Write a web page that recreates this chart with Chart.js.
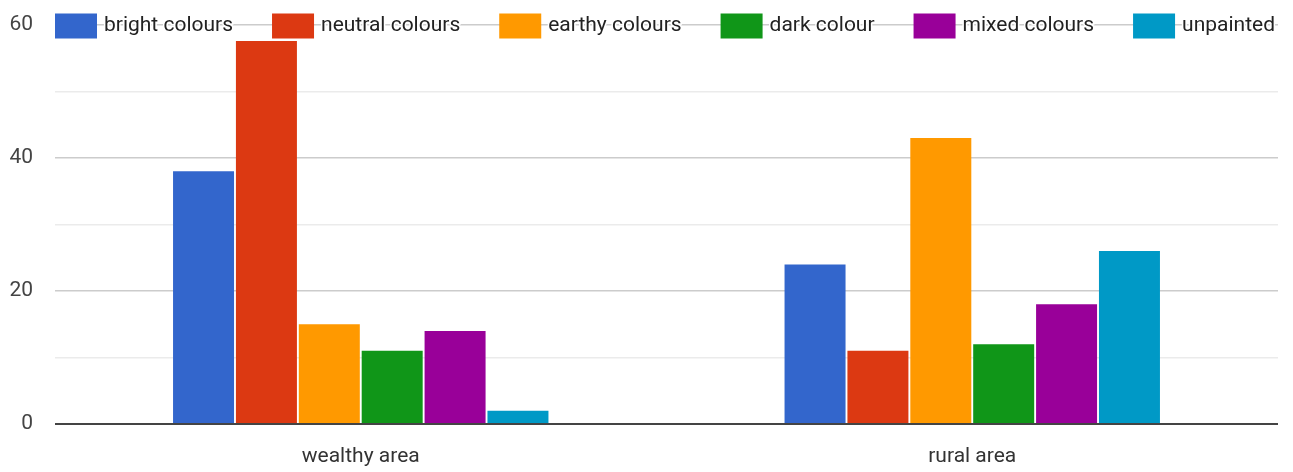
<!DOCTYPE html>
<html>
<head>
<meta charset="utf-8">
<script src="https://cdn.jsdelivr.net/npm/chart.js@4.4.1/dist/chart.umd.min.js"></script>
<style>
  html, body { margin: 0; padding: 0; background: #fff; }
  #wrap { width: 1293px; height: 472px; }
</style>
</head>
<body>
<div id="wrap"><canvas id="chart"></canvas></div>
<script>
const categories = ["wealthy area", "rural area"];
const seriesNames = ["bright colours", "neutral colours", "earthy colours", "dark colour", "mixed colours", "unpainted"];
const seriesColors = ["#3366cc", "#dc3912", "#ff9900", "#109618", "#990099", "#0099c6"];
const brightVals = [38, 24];
const neutralVals = [57.6, 11];
const earthyVals = [15, 43];
const darkVals = [11, 12];
const mixedVals = [14, 18];
const unpaintedVals = [2, 26];
const yTickLabels = [0, 20, 40, 60];

const seriesVals = [brightVals, neutralVals, earthyVals, darkVals, mixedVals, unpaintedVals];
const FONT = "Roboto, 'Liberation Sans', sans-serif";

// legend drawn inside the plot, on top of the 60 gridline (like the original)
const insideLegend = {
  id: 'insideLegend',
  afterDatasetsDraw(chart) {
    const ctx = chart.ctx;
    const area = chart.chartArea;
    const boxW = 42, boxH = 25, gapBoxText = 7;
    ctx.save();
    ctx.font = "21px " + FONT;
    ctx.textBaseline = 'middle';
    const widths = chart.data.datasets.map(d => ctx.measureText(d.label).width);
    const itemsW = widths.reduce((a, w) => a + w + boxW + gapBoxText, 0);
    const gap = (area.right - 3 - area.left - itemsW) / (widths.length - 1);
    let x = area.left;
    const cy = area.top + 1;
    chart.data.datasets.forEach((d, i) => {
      ctx.fillStyle = d.backgroundColor;
      ctx.fillRect(x, cy - boxH / 2, boxW, boxH);
      x += boxW + gapBoxText;
      ctx.lineWidth = 3;
      ctx.strokeStyle = '#fff';
      ctx.strokeText(d.label, x, cy);
      ctx.fillStyle = '#222';
      ctx.fillText(d.label, x, cy);
      x += widths[i] + gap;
    });
    ctx.restore();
  }
};

new Chart(document.getElementById('chart'), {
  type: 'bar',
  data: {
    labels: categories,
    datasets: seriesNames.map((name, i) => ({
      label: name,
      data: seriesVals[i],
      backgroundColor: seriesColors[i],
      categoryPercentage: 0.617,
      barPercentage: 0.97
    }))
  },
  options: {
    responsive: true,
    maintainAspectRatio: false,
    animation: false,
    layout: { padding: { left: 0, right: 15, top: 25, bottom: 2 } },
    plugins: {
      legend: { display: false },
      tooltip: { enabled: false }
    },
    scales: {
      x: {
        grid: { display: false, drawTicks: false },
        border: { display: false },
        ticks: { color: '#333', padding: 20, font: { family: FONT, size: 21 } },
        afterFit: s => { s.height = 46; s.paddingLeft = 0; s.paddingRight = 0; }
      },
      y: {
        min: 0,
        max: 60,
        border: { display: false },
        grid: {
          drawTicks: false,
          color: ctx => ctx.tick.value === 0 ? '#444' : (yTickLabels.includes(ctx.tick.value) ? '#cccccc' : '#ebebeb'),
          lineWidth: ctx => ctx.tick.value === 0 ? 2 : 1.5
        },
        ticks: {
          stepSize: 10,
          padding: 22,
          color: '#444',
          font: { family: FONT, size: 21 },
          callback: v => yTickLabels.includes(v) ? String(v) : ''
        },
        afterFit: s => { s.width = 55; s.paddingTop = 0; s.paddingBottom = 0; }
      }
    }
  },
  plugins: [insideLegend]
});
</script>
</body>
</html>
